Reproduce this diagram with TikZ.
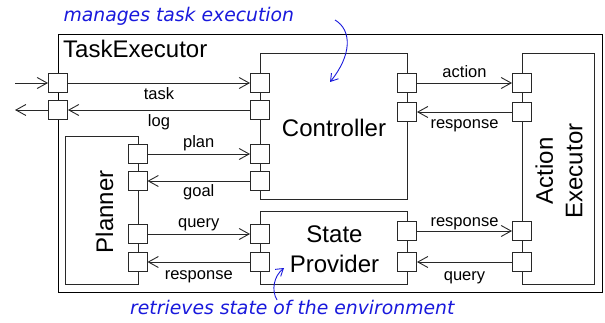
\documentclass[tikz,border=0pt]{standalone}
\usepackage{fontspec}
\setmainfont{Liberation Sans}
\newfontfamily\annfont{DejaVu Sans}
\usetikzlibrary{arrows.meta}
\definecolor{ann}{RGB}{25,25,220}
\definecolor{edge}{RGB}{40,40,40}
\begin{document}
\begin{tikzpicture}[x=1pt,y=-1pt,
 box/.style={draw=edge, line width=0.9pt, inner sep=0, anchor=north west},
 outerbox/.style={draw=black, line width=1.2pt, inner sep=0, anchor=north west},
 port/.style={draw=edge, fill=white, line width=0.9pt, minimum size=19pt, inner sep=0},
 conn/.style={draw=edge, line width=0.9pt, -{Straight Barb[length=10pt,width=11pt,line width=0.9pt]}},
 lbl/.style={font=\fontsize{16.5}{19}\selectfont, inner sep=0, anchor=base},
 big/.style={font=\fontsize{24}{29.4}\selectfont, inner sep=0, align=center},
 note/.style={text=ann, font=\annfont\itshape\fontsize{18.8}{22}\selectfont, inner sep=0, anchor=base west},
 notearrow/.style={draw=ann, line width=0.9pt, -{Straight Barb[length=7pt,width=9pt,line width=0.9pt]}}
]
\useasboundingbox (0,0) rectangle (605,323);
% boxes
\node[outerbox, minimum width=544pt, minimum height=258pt] (outer) at (57.7,34) {};
\node[box, minimum width=147.3pt, minimum height=145.7pt] (ctrl) at (260,53.3) {};
\node[box, minimum width=147pt, minimum height=73pt] (sp) at (260,211) {};
\node[box, minimum width=72.6pt, minimum height=230.7pt] (ae) at (521.7,53.3) {};
\node[box, minimum width=72.5pt, minimum height=148pt] (pl) at (65,136) {};
% titles
\node[big, anchor=base west] (tet) at (63,57.3) {TaskExecutor};
\node[big, anchor=base] (ctt) at (334,136.7) {Controller};
\node[big] (spt) at (334.5,249.3) {State\\Provider};
\node[big, rotate=90] (aet) at (559,171) {Action\\Executor};
\node[big, rotate=90] (plt) at (104.5,211.7) {Planner};
% ports
\node[port] (ol1) at (58,83) {};
\node[port] (ol2) at (58,110) {};
\node[port] (cl1) at (260,83) {};
\node[port] (cl2) at (260,110) {};
\node[port] (cl3) at (260,154) {};
\node[port] (cl4) at (260,181) {};
\node[port] (cr1) at (407,83) {};
\node[port] (cr2) at (407,112) {};
\node[port] (al1) at (522,83) {};
\node[port] (al2) at (522,112) {};
\node[port] (al3) at (522,231) {};
\node[port] (al4) at (522,262) {};
\node[port] (pr1) at (137.5,154) {};
\node[port] (pr2) at (137.5,181) {};
\node[port] (pr3) at (137.5,234) {};
\node[port] (pr4) at (137.5,262) {};
\node[port] (sl1) at (260,234) {};
\node[port] (sl2) at (260,262) {};
\node[port] (sr1) at (407,231) {};
\node[port] (sr2) at (407,262) {};
% connectors
\coordinate (inS) at (15,83);
\coordinate (outE) at (15,110);
\draw[conn] (inS) -- (ol1.west);
\draw[conn] (ol1.east) -- node[lbl, yshift=-17pt]{task} (cl1.west);
\draw[conn] (cl2.west) -- node[lbl, yshift=-16.7pt]{log} (ol2.east);
\draw[conn] (ol2.west) -- (outE);
\draw[conn] (pr1.east) -- node[lbl, yshift=6pt]{plan} (cl3.west);
\draw[conn] (cl4.west) -- node[lbl, yshift=-16pt]{goal} (pr2.east);
\draw[conn] (pr3.east) -- node[lbl, yshift=6.5pt]{query} (sl1.west);
\draw[conn] (sl2.west) -- node[lbl, yshift=-17.5pt]{response} (pr4.east);
\draw[conn] (cr1.east) -- node[lbl, yshift=5pt]{action} (al1.west);
\draw[conn] (al2.west) -- node[lbl, yshift=-16.5pt]{response} (cr2.east);
\draw[conn] (sr1.east) -- node[lbl, yshift=5pt]{response} (al3.west);
\draw[conn] (al4.west) -- node[lbl, yshift=-18pt]{query} (sr2.east);
% annotations
\node[note] (n1) at (63.3,21.7) {manages task execution};
\coordinate (a1s) at (335,20);
\coordinate (a1e) at (330,82);
\draw[notearrow] (a1s) .. controls (352,30) and (352,55) .. (a1e);
\node[note] (n2) at (130,314) {retrieves state of the environment};
\coordinate (a2s) at (277,300);
\coordinate (a2e) at (284,268);
\draw[notearrow] (a2s) .. controls (271,290) and (274,276) .. (a2e);
\end{tikzpicture}
\end{document}
